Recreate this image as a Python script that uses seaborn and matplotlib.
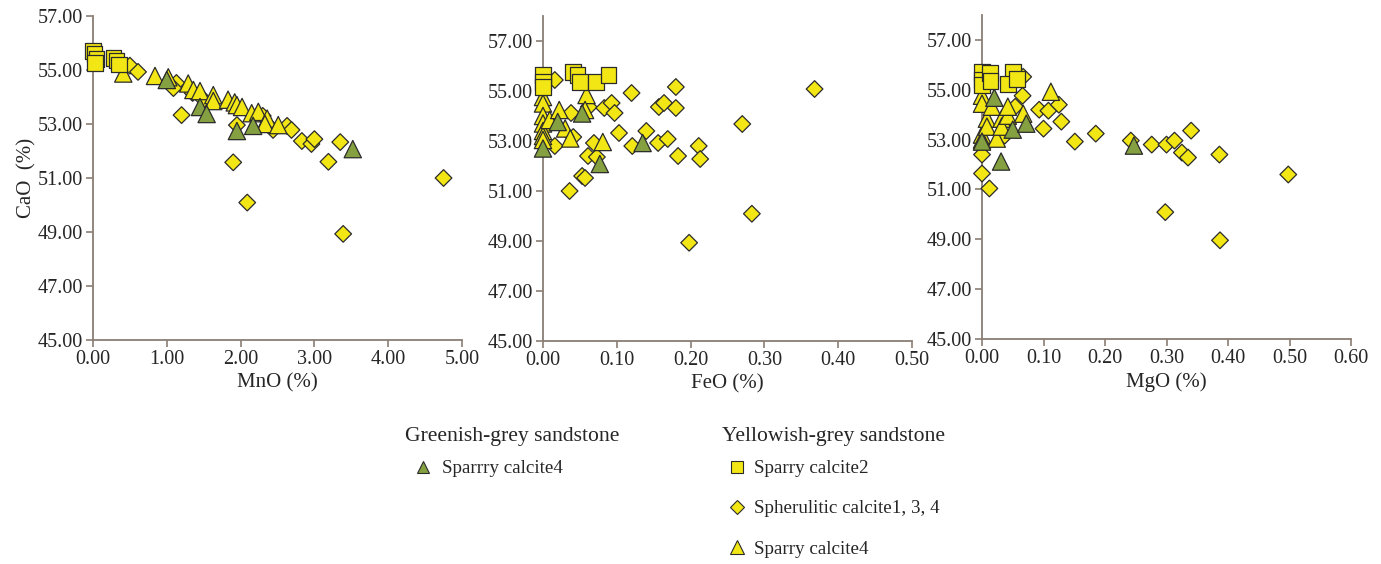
import numpy as np
import pandas as pd
import matplotlib
matplotlib.use("Agg")
import matplotlib.pyplot as plt
import seaborn as sns
from matplotlib.lines import Line2D
from matplotlib.ticker import FormatStrFormatter

# ---- data (oxide %, CaO %) ----
# Panel 1: MnO vs CaO
mno_sq = [0.00, 0.02, 0.05, 0.03, 0.28, 0.32, 0.35]
cao_mno_sq = [55.70, 55.60, 55.40, 55.25, 55.45, 55.35, 55.20]
mno_di = [0.50, 0.61, 1.13, 1.09, 1.20, 1.35, 1.50, 1.90, 1.95, 2.09, 2.30, 2.44, 2.63,
          2.69, 2.83, 2.96, 3.00, 3.19, 3.35, 3.39, 4.75]
cao_mno_di = [55.16, 54.93, 54.52, 54.33, 53.33, 54.15, 53.90, 51.58, 52.96, 50.09, 53.30,
              52.78, 52.93, 52.78, 52.37, 52.26, 52.44, 51.60, 52.33, 48.93, 51.00]
mno_ty = [0.41, 0.84, 1.02, 1.29, 1.36, 1.45, 1.63, 1.63, 1.83, 1.92, 1.95, 2.02, 2.15,
          2.24, 2.36, 2.33, 2.51]
cao_mno_ty = [54.87, 54.78, 54.73, 54.50, 54.26, 54.22, 54.07, 53.85, 53.90, 53.80, 53.70,
              53.63, 53.40, 53.45, 53.20, 53.00, 52.96]
mno_tg = [1.00, 1.45, 1.54, 1.95, 2.17, 3.52]
cao_mno_tg = [54.63, 53.63, 53.37, 52.74, 52.93, 52.07]

# Panel 2: FeO vs CaO
feo_sq = [0.000, 0.000, 0.000, 0.041, 0.047, 0.050, 0.072, 0.089]
cao_feo_sq = [55.64, 55.37, 55.16, 55.76, 55.64, 55.36, 55.36, 55.64]
feo_di = [0.016, 0.038, 0.016, 0.041, 0.062, 0.069, 0.061, 0.073, 0.053, 0.057, 0.036,
          0.083, 0.093, 0.097, 0.103, 0.120, 0.121, 0.140, 0.157, 0.164, 0.156, 0.169,
          0.180, 0.180, 0.183, 0.211, 0.213, 0.270, 0.368, 0.198, 0.283]
cao_feo_di = [55.44, 54.12, 52.80, 53.16, 54.36, 52.92, 52.40, 52.36, 51.60, 51.52, 51.00,
              54.32, 54.52, 54.12, 53.32, 54.92, 52.80, 53.40, 54.36, 54.52, 52.92, 53.08,
              55.16, 54.32, 52.40, 52.80, 52.28, 53.68, 55.08, 48.93, 50.09]
feo_ty = [0.000, 0.000, 0.000, 0.000, 0.000, 0.000, 0.000, 0.009, 0.022, 0.030, 0.037,
          0.059, 0.057, 0.081]
cao_feo_ty = [54.76, 54.50, 54.00, 53.70, 53.40, 53.20, 53.04, 53.84, 54.24, 53.50, 53.10,
              54.84, 54.24, 52.96]
feo_tg = [0.000, 0.020, 0.053, 0.135, 0.077]
cao_feo_tg = [52.70, 53.76, 54.10, 52.92, 52.08]

# Panel 3: MgO vs CaO
mgo_sq = [0.000, 0.000, 0.000, 0.013, 0.014, 0.050, 0.042, 0.057]
cao_mgo_sq = [55.72, 55.40, 55.20, 55.68, 55.36, 55.72, 55.24, 55.44]
mgo_di = [0.000, 0.000, 0.012, 0.067, 0.066, 0.054, 0.037, 0.093, 0.100, 0.108, 0.125,
          0.129, 0.151, 0.185, 0.242, 0.276, 0.300, 0.313, 0.325, 0.335, 0.340, 0.386,
          0.498, 0.298, 0.387]
cao_mgo_di = [52.40, 51.64, 51.04, 55.52, 54.76, 54.32, 53.16, 54.20, 53.44, 54.16, 54.40,
              53.72, 52.92, 53.24, 52.96, 52.80, 52.80, 52.96, 52.48, 52.28, 53.36, 52.40,
              51.60, 50.09, 48.96]
mgo_ty = [0.000, 0.000, 0.000, 0.000, 0.008, 0.008, 0.016, 0.024, 0.032, 0.032, 0.042,
          0.042, 0.067, 0.112]
cao_mgo_ty = [54.76, 54.44, 53.20, 53.00, 53.84, 53.52, 54.32, 53.04, 53.84, 53.52, 53.96,
              54.32, 54.04, 54.92]
mgo_tg = [0.000, 0.020, 0.031, 0.050, 0.072, 0.247]
cao_mgo_tg = [52.92, 54.68, 52.12, 53.40, 53.64, 52.76]

groups = ["Spherulitic calcite1, 3, 4", "Sparry calcite4 (Y)", "Sparrry calcite4 (G)", "Sparry calcite2"]
yellow = "#f2e614"
green = "#84a040"
edge = "#2b2b2b"
axis_col = "#8a7e74"
palette = {groups[0]: yellow, groups[1]: yellow, groups[2]: green, groups[3]: yellow}
markers = {groups[0]: "D", groups[1]: "^", groups[2]: "^", groups[3]: "s"}
msizes = {groups[0]: 72, groups[1]: 155, groups[2]: 155, groups[3]: 125}


def make_df(di, cdi, ty, cty, tg, ctg, sq, csq):
    parts = []
    for g, xs, ys in zip(groups, [di, ty, tg, sq], [cdi, cty, ctg, csq]):
        parts.append(pd.DataFrame({"x": xs, "CaO": ys, "group": g}))
    return pd.concat(parts, ignore_index=True)


panels = [
    (make_df(mno_di, cao_mno_di, mno_ty, cao_mno_ty, mno_tg, cao_mno_tg, mno_sq, cao_mno_sq),
     "MnO (%)", (0, 5), np.arange(0, 5.01, 1.0), 57),
    (make_df(feo_di, cao_feo_di, feo_ty, cao_feo_ty, feo_tg, cao_feo_tg, feo_sq, cao_feo_sq),
     "FeO (%)", (0, 0.5), np.arange(0, 0.501, 0.1), 58),
    (make_df(mgo_di, cao_mgo_di, mgo_ty, cao_mgo_ty, mgo_tg, cao_mgo_tg, mgo_sq, cao_mgo_sq),
     "MgO (%)", (0, 0.6), np.arange(0, 0.601, 0.1), 58),
]

sns.set_style("white")
plt.rcParams["font.family"] = ["Liberation Serif", "DejaVu Serif"]

fig = plt.figure(figsize=(13.81, 5.64), dpi=100)
rects = [
    [93 / 1381, 224 / 564, 369 / 1381, 324 / 564],
    [543 / 1381, 223 / 564, 369 / 1381, 325 / 564],
    [982 / 1381, 225 / 564, 369 / 1381, 324 / 564],
]

for i, (df, xlabel, xlim, xticks, ytop) in enumerate(panels):
    ax = fig.add_axes(rects[i])
    sns.scatterplot(data=df, x="x", y="CaO", hue="group", style="group", size="group",
                    palette=palette, markers=markers, sizes=msizes, edgecolor=edge,
                    linewidth=0.9, legend=False, ax=ax, clip_on=False, zorder=3)
    ax.set_xlim(*xlim)
    ax.set_ylim(45, ytop)
    ax.set_xticks(xticks)
    ax.set_yticks(np.arange(45, 57.1, 2))
    ax.xaxis.set_major_formatter(FormatStrFormatter("%.2f"))
    ax.yaxis.set_major_formatter(FormatStrFormatter("%.2f"))
    for side in ["top", "right"]:
        ax.spines[side].set_visible(False)
    for side in ["left", "bottom"]:
        ax.spines[side].set_color(axis_col)
        ax.spines[side].set_linewidth(1.3)
    ax.tick_params(axis="both", direction="out", length=5, width=1.2,
                   color=axis_col, labelsize=14.5, pad=2, left=True, bottom=True)
    ax.set_xlabel(xlabel, fontsize=15, labelpad=3)
    ax.set_ylabel("CaO  (%)" if i == 0 else "", fontsize=15, labelpad=1)

# legends: group headers as text, entries as legends
def handle(marker, color, size):
    return Line2D([], [], linestyle="", marker=marker, markerfacecolor=color,
                  markeredgecolor=edge, markeredgewidth=0.8, markersize=size)

fig.text(405 / 1381, 1 - 436 / 564, "Greenish-grey sandstone", fontsize=15.6,
         ha="left", va="center")
fig.text(722 / 1381, 1 - 436 / 564, "Yellowish-grey sandstone", fontsize=15.6,
         ha="left", va="center")

fig.legend([handle("^", green, 9)], ["Sparrry calcite4"],
           loc="upper left", bbox_to_anchor=(413 / 1381, 1 - 460 / 564), frameon=False,
           fontsize=13.7, borderpad=0, borderaxespad=0,
           handlelength=1.0, handletextpad=0.5, labelspacing=1.2)
fig.legend([handle("s", yellow, 8), handle("D", yellow, 7.5), handle("^", yellow, 10)],
           ["Sparry calcite2", "Spherulitic calcite1, 3, 4", "Sparry calcite4"],
           loc="upper left", bbox_to_anchor=(727 / 1381, 1 - 460 / 564), frameon=False,
           fontsize=13.7, borderpad=0, borderaxespad=0,
           handlelength=1.0, handletextpad=0.4, labelspacing=1.2)

fig.savefig("out.png", dpi=100)
